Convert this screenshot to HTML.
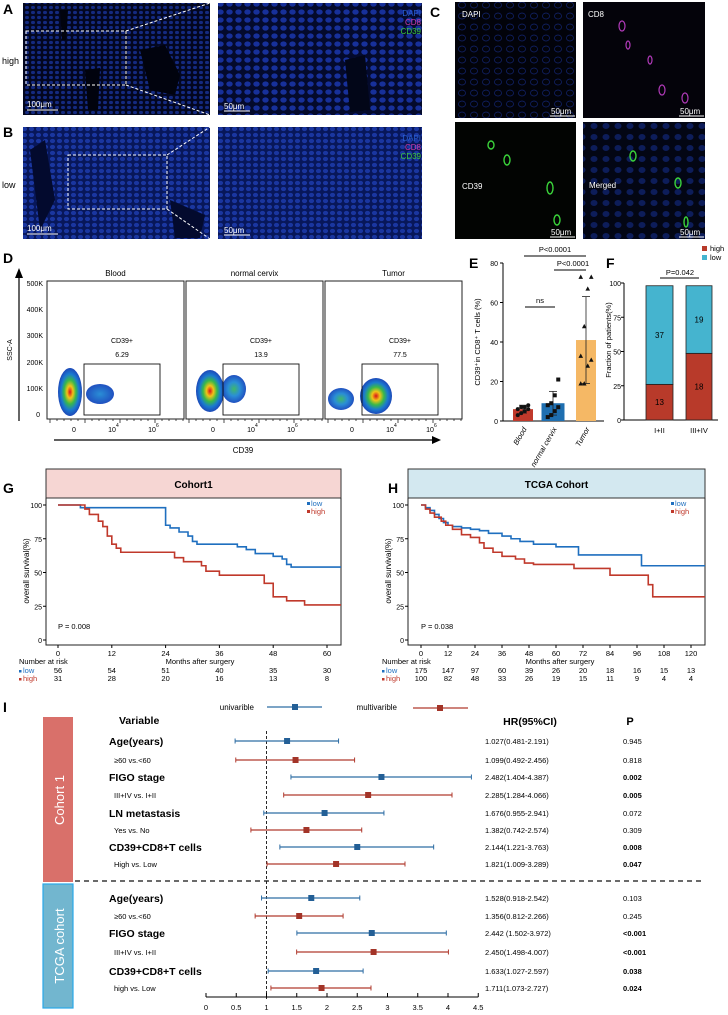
<!DOCTYPE html>
<html><head><meta charset="utf-8"><style>
html,body{margin:0;padding:0;background:#fff;}
svg{display:block;font-family:"Liberation Sans",sans-serif;}
</style></head><body>
<svg id="fig" width="728" height="1015" viewBox="0 0 728 1015" xmlns="http://www.w3.org/2000/svg">
<defs>
<pattern id="nucA" width="6" height="5" patternUnits="userSpaceOnUse"><rect width="6" height="5" fill="#030720"/><ellipse cx="3" cy="2.5" rx="2" ry="1.6" fill="#142a80"/></pattern>
<pattern id="nucB" width="7" height="6" patternUnits="userSpaceOnUse"><rect width="7" height="6" fill="#08175a"/><ellipse cx="3.5" cy="3" rx="2.6" ry="2.1" fill="#1a36a0"/></pattern>
<pattern id="nucA2" width="9" height="8" patternUnits="userSpaceOnUse"><rect width="9" height="8" fill="#040a2c"/><ellipse cx="4.5" cy="4" rx="3.2" ry="2.6" fill="#17309a"/></pattern>
<pattern id="nucC" width="12" height="11" patternUnits="userSpaceOnUse"><rect width="12" height="11" fill="#02030a"/><ellipse cx="6" cy="5" rx="3.5" ry="3" fill="none" stroke="#122470" stroke-width="0.7"/></pattern>
<pattern id="nucM" width="12" height="11" patternUnits="userSpaceOnUse"><rect width="12" height="11" fill="#030614"/><ellipse cx="6" cy="5" rx="3.5" ry="3" fill="#0d1d5a"/></pattern>
<radialGradient id="blob"><stop offset="0" stop-color="#d8101a"/><stop offset="0.25" stop-color="#f2c418"/><stop offset="0.5" stop-color="#38b84a"/><stop offset="0.75" stop-color="#1a7ad0"/><stop offset="1" stop-color="#1c48b8"/></radialGradient>
<radialGradient id="blob2"><stop offset="0" stop-color="#3fb86a"/><stop offset="0.5" stop-color="#2a8ed6"/><stop offset="1" stop-color="#2050c0"/></radialGradient>
<radialGradient id="blob3"><stop offset="0" stop-color="#2a8ed6"/><stop offset="1" stop-color="#2050c0"/></radialGradient>
</defs>

<g font-size="9">
<text x="3" y="14" font-weight="bold" font-size="14">A</text>
<text x="3" y="137" font-weight="bold" font-size="14">B</text>
<text x="2" y="64">high</text>
<text x="2" y="188">low</text>
<rect x="23" y="3" width="187" height="112" fill="url(#nucA)"/>
<path d="M140,50 L165,45 L180,75 L175,95 L150,90 Z M60,10 L68,10 L66,40 L62,40 Z M85,70 L100,68 L98,110 L88,110 Z" fill="#01030e"/>
<rect x="218" y="3" width="204" height="112" fill="url(#nucA2)"/>
<path d="M345,60 L365,55 L370,110 L350,112 Z" fill="#020618"/>
<rect x="23" y="127" width="187" height="112" fill="url(#nucB)"/>
<path d="M30,150 L45,140 L55,200 L40,230 Z M170,200 L205,215 L200,238 L175,238 Z" fill="#030a2e"/>
<rect x="218" y="127" width="204" height="112" fill="url(#nucB)"/>
<g stroke="#fff" stroke-dasharray="3,2" fill="none" stroke-width="1">
<rect x="26" y="31" width="100" height="54"/><line x1="126" y1="31" x2="210" y2="3"/><line x1="126" y1="85" x2="210" y2="115"/>
<rect x="68" y="155" width="99" height="54"/><line x1="167" y1="155" x2="210" y2="127"/><line x1="167" y1="209" x2="210" y2="239"/>
</g>
<g font-size="8">
<text x="421" y="16" fill="#2a5fd0" text-anchor="end">DAPI</text><text x="421" y="25" fill="#d23aa8" text-anchor="end">CD8</text><text x="421" y="34" fill="#3cc83c" text-anchor="end">CD39</text>
<text x="421" y="141" fill="#2a5fd0" text-anchor="end">DAPI</text><text x="421" y="150" fill="#d23aa8" text-anchor="end">CD8</text><text x="421" y="159" fill="#3cc83c" text-anchor="end">CD39</text>
</g>
<g fill="#fff" font-size="8">
<text x="27" y="107">100μm</text><line x1="27" y1="110" x2="58" y2="110" stroke="#fff"/>
<text x="224" y="109">50μm</text><line x1="224" y1="111" x2="250" y2="111" stroke="#fff"/>
<text x="27" y="231">100μm</text><line x1="27" y1="234" x2="58" y2="234" stroke="#fff"/>
<text x="224" y="233">50μm</text><line x1="224" y1="235" x2="250" y2="235" stroke="#fff"/>
</g>
</g>

<g font-size="8">
<text x="430" y="17" font-weight="bold" font-size="14">C</text>
<rect x="455" y="2" width="121" height="116" fill="url(#nucC)"/>
<rect x="583" y="2" width="122" height="116" fill="#04030a"/>
<rect x="455" y="122" width="121" height="117" fill="#020402"/>
<rect x="583" y="122" width="122" height="117" fill="url(#nucM)"/>
<g fill="none" stroke="#b03ab8" stroke-width="1.2"><ellipse cx="622" cy="26" rx="3" ry="5"/><ellipse cx="628" cy="45" rx="2" ry="4"/><ellipse cx="650" cy="60" rx="2" ry="4"/><ellipse cx="662" cy="90" rx="3" ry="5"/><ellipse cx="685" cy="98" rx="3" ry="5"/></g>
<g fill="none" stroke="#3ad23a" stroke-width="1.4"><ellipse cx="491" cy="145" rx="3" ry="4"/><ellipse cx="507" cy="160" rx="3" ry="5"/><ellipse cx="550" cy="188" rx="3" ry="6"/><ellipse cx="557" cy="220" rx="3" ry="5"/><ellipse cx="633" cy="156" rx="3" ry="5"/><ellipse cx="678" cy="183" rx="3" ry="5"/><ellipse cx="686" cy="222" rx="2" ry="5"/></g>
<g fill="#fff"><text x="462" y="17">DAPI</text><text x="588" y="17">CD8</text><text x="462" y="189">CD39</text><text x="589" y="188">Merged</text>
<text x="551" y="114">50μm</text><line x1="550" y1="116" x2="575" y2="116" stroke="#fff"/>
<text x="680" y="114">50μm</text><line x1="679" y1="116" x2="704" y2="116" stroke="#fff"/>
<text x="551" y="235">50μm</text><line x1="550" y1="237" x2="575" y2="237" stroke="#fff"/>
<text x="680" y="235">50μm</text><line x1="679" y1="237" x2="704" y2="237" stroke="#fff"/></g>
</g>

<g font-size="8">
<text x="3" y="263" font-weight="bold" font-size="14">D</text>
<line x1="19" y1="421" x2="19" y2="272" stroke="#000" stroke-width="1.2"/><path d="M15,278 L19,268 L23,278 Z" fill="#000"/>
<text transform="translate(12,350) rotate(-90)" text-anchor="middle" font-size="7">SSC-A</text>
<g text-anchor="end" font-size="7"><text x="43" y="286">500K</text><text x="43" y="312">400K</text><text x="43" y="338">300K</text><text x="43" y="365">200K</text><text x="43" y="391">100K</text><text x="40" y="417">0</text></g>
<line x1="54" y1="440" x2="435" y2="440" stroke="#000" stroke-width="1.2"/><path d="M432,436 L441,440 L432,444 Z" fill="#000"/>
<text x="243" y="453" text-anchor="middle" font-size="8">CD39</text>
<g id="flowPanels"></g>
</g>

<g id="panelE" font-size="8">
<text x="469" y="268" font-weight="bold" font-size="14">E</text>
</g>
<g id="panelF" font-size="8">
<text x="606" y="268" font-weight="bold" font-size="14">F</text>
</g>
<g id="panelG" font-size="8">
<text x="3" y="493" font-weight="bold" font-size="14">G</text>
</g>
<g id="panelH" font-size="8">
<text x="388" y="493" font-weight="bold" font-size="14">H</text>
</g>
<g id="panelI" font-size="8">
<text x="3" y="712" font-weight="bold" font-size="14">I</text>
</g>
</svg>
<script>
// ---------- data ----------
const flowTitles = ["Blood","normal cervix","Tumor"];
const flowGateValues = ["6.29","13.9","77.5"];

const eCategories = ["Blood","normal cervix","Tumor"];
const eMeans = [6, 9, 41];
const eSdHigh = [8, 15, 63];
const eSdLow = [4, 3, 19];
const ePoints = [[3,4,5,6,6,7,7,8],[2,3,5,7,8,9,13,21],[19,19,28,31,33,48,67,73,73]];
const eTicks = [0,20,40,60,80];

const fCategories = ["I+II","III+IV"];
const fHigh = [13, 18];
const fLow = [37, 19];
const fTicks = [0,25,50,75,100];

const kmTicksG = [0,12,24,36,48,60];
const gLowT = [0,5,24,25,27,29,30,31,40,42,44,48,50,51,52,63];
const gLowS = [100,98,85,83,80,77,73,71,69,67,64,62,60,56,54,54];
const gHighT = [0,6,7,9,10,11,12,13,14,17,26,28,32,33,36,46,48,51,55,63];
const gHighS = [100,97,93,88,84,77,71,68,65,65,61,58,55,51,48,42,32,29,26,26];
const gRiskLow = [56,54,51,40,35,30];
const gRiskHigh = [31,28,20,16,13,8];

const kmTicksH = [0,12,24,36,48,60,72,84,96,108,120];
const hLowT = [0,2,4,6,8,10,12,14,18,22,26,30,36,40,44,50,60,70,98,125];
const hLowS = [100,98,96,93,90,87,85,84,83,82,81,79,77,75,73,71,69,63,55,55];
const hHighT = [0,2,4,6,9,11,14,18,22,26,28,32,36,42,46,50,68,84,101,103,125];
const hHighS = [100,97,94,91,88,85,82,78,76,72,68,65,62,60,57,56,53,48,41,32,32];
const hRiskLow = [175,147,97,60,39,26,20,18,16,15,13];
const hRiskHigh = [100,82,48,33,26,19,15,11,9,4,4];

const forestLabels = ["Age(years)","≥60 vs.<60","FIGO stage","III+IV vs. I+II","LN metastasis","Yes vs. No","CD39+CD8+T cells","High vs. Low",
  "Age(years)","≥60 vs.<60","FIGO stage","III+IV vs. I+II","CD39+CD8+T cells","high vs. Low"];
const forestPoint = [1.34,1.48,2.90,2.68,1.96,1.66,2.50,2.15,1.74,1.54,2.74,2.77,1.82,1.91];
const forestLo = [0.481,0.492,1.404,1.284,0.955,0.742,1.221,1.009,0.918,0.812,1.502,1.498,1.027,1.073];
const forestHi = [2.191,2.456,4.387,4.066,2.941,2.574,3.763,3.289,2.542,2.266,3.972,4.007,2.597,2.727];
const forestHR = ["1.027(0.481-2.191)","1.099(0.492-2.456)","2.482(1.404-4.387)","2.285(1.284-4.066)","1.676(0.955-2.941)","1.382(0.742-2.574)","2.144(1.221-3.763)","1.821(1.009-3.289)",
  "1.528(0.918-2.542)","1.356(0.812-2.266)","2.442 (1.502-3.972)","2.450(1.498-4.007)","1.633(1.027-2.597)","1.711(1.073-2.727)"];
const forestP = ["0.945","0.818","0.002","0.005","0.072","0.309","0.008","0.047","0.103","0.245","<0.001","<0.001","0.038","0.024"];
const forestBoldP = [false,false,true,true,false,false,true,true,false,false,true,true,true,true];
const forestTicks = [0,0.5,1,1.5,2,2.5,3,3.5,4,4.5];

// ---------- helpers ----------
const NS="http://www.w3.org/2000/svg";
function mk(parent,tag,attrs,text){const e=document.createElementNS(NS,tag);for(const k in attrs)e.setAttribute(k,attrs[k]);if(text!==undefined)e.textContent=text;parent.appendChild(e);return e;}

// ---------- Panel D ----------
(function(){
  const g=document.getElementById('flowPanels');
  const boxes=[47,186,325], w=137;
  const blobs=[
    [[100,394,14,10,'url(#blob3)'],[70,392,12,24,'url(#blob)']],
    [[234,389,12,14,'url(#blob2)'],[210,391,14,21,'url(#blob)']],
    [[341,399,13,11,'url(#blob2)'],[376,396,16,18,'url(#blob)']]];
  for(let i=0;i<3;i++){
    const x=boxes[i];
    const b=mk(g,'rect',{x:x,y:281,width:w,height:138,fill:'none',stroke:'#222','stroke-width':1});
    
    
    const t=mk(g,'text',{x:x+w/2,y:276,'text-anchor':'middle','font-size':8},flowTitles[i]);
    
    
    blobs[i].forEach(bb=>{const e=mk(g,'ellipse',{cx:bb[0],cy:bb[1],rx:bb[2],ry:bb[3],fill:bb[4]});});
    const gate=mk(g,'rect',{x:x+37,y:364,width:76,height:51,fill:'none',stroke:'#111','stroke-width':0.9});
    
    
    mk(g,'text',{x:x+75,y:343,'text-anchor':'middle','font-size':7},'CD39+');
    mk(g,'text',{x:x+75,y:357,'text-anchor':'middle','font-size':7},flowGateValues[i]);
    const z=x+27;
    mk(g,'text',{x:z,y:432,'text-anchor':'middle','font-size':7},'0');
    mk(g,'text',{x:z+38,y:432,'text-anchor':'middle','font-size':7},'10');
    mk(g,'text',{x:z+42,y:427,'font-size':5},'4');
    mk(g,'text',{x:z+78,y:432,'text-anchor':'middle','font-size':7},'10');
    mk(g,'text',{x:z+82,y:427,'font-size':5},'6');
    for(let k=0;k<20;k++){mk(g,'line',{x1:x+3+k*7,y1:419,x2:x+3+k*7,y2:(k%5==0?423:421),stroke:'#222','stroke-width':0.8});}
  }
})();

// ---------- Panel E ----------
(function(){
  const g=document.getElementById('panelE');
  const x0=503, y0=421, yS=v=>y0-v*(158/80);
  mk(g,'line',{x1:x0,y1:y0,x2:x0,y2:yS(80),stroke:'#000'});
  mk(g,'line',{x1:x0,y1:y0,x2:604,y2:y0,stroke:'#000'});
  eTicks.forEach(t=>{mk(g,'line',{x1:x0-3,y1:yS(t),x2:x0,y2:yS(t),stroke:'#000'});mk(g,'text',{x:x0-5,y:yS(t)+3,'text-anchor':'end','font-size':7},t);});
  const yl=mk(g,'text',{transform:'translate(480,342) rotate(-90)','text-anchor':'middle','font-size':7.5},'CD39⁺in CD8⁺ T cells (%)');
  
  
  const cx=[523,553,586], colors=['#c0392b','#1f6fb0','#f5b865'], bw=[20,23,20];
  const shapes=['circle','square','triangle'];
  for(let i=0;i<3;i++){
    const bar=mk(g,'rect',{x:cx[i]-bw[i]/2,y:yS(eMeans[i]),width:bw[i],height:y0-yS(eMeans[i]),fill:colors[i]});
    
    
    mk(g,'line',{x1:cx[i],y1:yS(eSdLow[i]),x2:cx[i],y2:yS(eSdHigh[i]),stroke:'#222','stroke-width':0.8});
    mk(g,'line',{x1:cx[i]-4,y1:yS(eSdHigh[i]),x2:cx[i]+4,y2:yS(eSdHigh[i]),stroke:'#222','stroke-width':0.8});
    mk(g,'line',{x1:cx[i]-4,y1:yS(eSdLow[i]),x2:cx[i]+4,y2:yS(eSdLow[i]),stroke:'#222','stroke-width':0.8});
    ePoints[i].forEach((v,k)=>{
      const px=cx[i]+((k%4)-1.5)*3.5, py=yS(v);
      let p;
      if(shapes[i]=='circle')p=mk(g,'circle',{cx:px,cy:py,r:2,fill:'#111'});
      else if(shapes[i]=='square')p=mk(g,'rect',{x:px-2,y:py-2,width:4,height:4,fill:'#111'});
      else p=mk(g,'path',{d:`M${px-2.3},${py+2} L${px},${py-2.3} L${px+2.3},${py+2} Z`,fill:'#111'});
      
      
    });
    mk(g,'text',{transform:`translate(${cx[i]+4},${y0+8}) rotate(-60)`,'text-anchor':'end','font-size':7.5,'font-style':'italic'},eCategories[i]);
  }
  mk(g,'line',{x1:525,y1:307,x2:555,y2:307,stroke:'#000'});mk(g,'text',{x:540,y:303,'text-anchor':'middle','font-size':7.5},'ns');
  mk(g,'line',{x1:524,y1:256,x2:586,y2:256,stroke:'#000'});mk(g,'text',{x:555,y:252,'text-anchor':'middle','font-size':7.5},'P<0.0001');
  mk(g,'line',{x1:554,y1:270,x2:586,y2:270,stroke:'#000'});mk(g,'text',{x:573,y:266,'text-anchor':'middle','font-size':7.5},'P<0.0001');
})();

// ---------- Panel F ----------
(function(){
  const g=document.getElementById('panelF');
  const x0=624,y0=420,yS=v=>y0-v*1.37;
  mk(g,'line',{x1:x0,y1:y0,x2:x0,y2:yS(100),stroke:'#000'});
  mk(g,'line',{x1:x0,y1:y0,x2:718,y2:y0,stroke:'#000'});
  fTicks.forEach(t=>{mk(g,'line',{x1:x0-3,y1:yS(t),x2:x0,y2:yS(t),stroke:'#000'});mk(g,'text',{x:x0-3,y:yS(t)+3,'text-anchor':'end','font-size':7},t);});
  const yl=mk(g,'text',{transform:'translate(611,340) rotate(-90)','text-anchor':'middle','font-size':7.5},'Fraction of patients(%)');
  
  
  const bx=[646,686],bw=[27,26];
  for(let i=0;i<2;i++){
    const tot=fHigh[i]+fLow[i], ph=fHigh[i]/tot*100;
    const r=mk(g,'rect',{x:bx[i],y:yS(ph),width:bw[i],height:y0-yS(ph),fill:'#b83a2a',stroke:'#222','stroke-width':0.8});
    
    
    const c=mk(g,'rect',{x:bx[i],y:yS(98),width:bw[i],height:yS(ph)-yS(98),fill:'#45b4cf',stroke:'#222','stroke-width':0.8});
    
    
    mk(g,'text',{x:bx[i]+bw[i]/2,y:(yS(ph)+y0)/2+3,'text-anchor':'middle','font-size':8},fHigh[i]);
    mk(g,'text',{x:bx[i]+bw[i]/2,y:(yS(ph)+yS(98))/2+3,'text-anchor':'middle','font-size':8},fLow[i]);
    mk(g,'text',{x:bx[i]+bw[i]/2,y:433,'text-anchor':'middle','font-size':7.5},fCategories[i]);
  }
  mk(g,'line',{x1:660,y1:278,x2:699,y2:278,stroke:'#000'});mk(g,'text',{x:680,y:275,'text-anchor':'middle','font-size':7.5},'P=0.042');
  mk(g,'rect',{x:702,y:246,width:5,height:5,fill:'#b83a2a'});mk(g,'text',{x:710,y:251,'font-size':7.5},'high');
  mk(g,'rect',{x:702,y:255,width:5,height:5,fill:'#45b4cf'});mk(g,'text',{x:710,y:260,'font-size':7.5},'low');
})();

// ---------- KM ----------
function km(gid,hx0,hx1,title,hfill,ax0,ax1,xmax,ticks,lowT,lowS,highT,highS,riskL,riskH,ptxt,riskX,monthsX){
  const g=document.getElementById(gid);
  const hb=mk(g,'rect',{x:hx0,y:469,width:hx1-hx0,height:29,fill:hfill,stroke:'#333','stroke-width':1});
  
  
  mk(g,'text',{x:(hx0+hx1)/2,y:488,'text-anchor':'middle','font-weight':'bold','font-size':10},title);
  const xS=m=>ax0+m*(ax1-ax0)/xmax, yS=s=>640-s*1.35;
  mk(g,'path',{d:`M${hx0},498 V645 H${hx1} V498`,fill:'none',stroke:'#222','stroke-width':1});
  [0,25,50,75,100].forEach(t=>{mk(g,'line',{x1:hx0-3,y1:yS(t),x2:hx0,y2:yS(t),stroke:'#000'});mk(g,'text',{x:hx0-4,y:yS(t)+3,'text-anchor':'end','font-size':7},t);});
  const yl=mk(g,'text',{transform:`translate(${hx0-17},571) rotate(-90)`,'text-anchor':'middle','font-size':8},'overall survival(%)');
  
  
  ticks.forEach((t,i)=>{mk(g,'line',{x1:xS(t),y1:645,x2:xS(t),y2:648,stroke:'#000'});mk(g,'text',{x:xS(t),y:656,'text-anchor':'middle','font-size':7.5},t);
    mk(g,'text',{x:xS(t),y:673,'text-anchor':'middle','font-size':7.5},riskL[i]);mk(g,'text',{x:xS(t),y:681,'text-anchor':'middle','font-size':7.5},riskH[i]);});
  function step(T,S,col,name){let d=`M${xS(T[0])},${yS(S[0])}`;for(let i=1;i<T.length;i++){d+=` H${Math.min(xS(T[i]),hx1)} V${yS(S[i])}`;}
    d+=` H${hx1}`;
    const p=mk(g,'path',{d:d,fill:'none',stroke:col,'stroke-width':1.6});
    
    }
  step(lowT,lowS,'#1f6fbf','km-line-low');step(highT,highS,'#c0392b','km-line-high');
  mk(g,'text',{x:ax0,y:629,'font-size':7.5},ptxt);
  mk(g,'rect',{x:hx1-34,y:502,width:3,height:3,fill:'#1f6fbf'});mk(g,'text',{x:hx1-30,y:506,'font-size':7.5,fill:'#1f6fbf'},'low');
  mk(g,'rect',{x:hx1-34,y:510,width:3,height:3,fill:'#c0392b'});mk(g,'text',{x:hx1-30,y:514,'font-size':7.5,fill:'#c0392b'},'high');
  mk(g,'text',{x:riskX,y:664,'font-size':7.5},'Number at risk');
  mk(g,'text',{x:monthsX,y:664,'text-anchor':'middle','font-size':7.5},'Months after surgery');
  mk(g,'rect',{x:riskX+0,y:670,width:2.5,height:2.5,fill:'#1f6fbf'});mk(g,'text',{x:riskX+4,y:673,'font-size':7.5,fill:'#1f6fbf'},'low');
  mk(g,'rect',{x:riskX+0,y:678,width:2.5,height:2.5,fill:'#c0392b'});mk(g,'text',{x:riskX+4,y:681,'font-size':7.5,fill:'#c0392b'},'high');
}
km('panelG',46,341,'Cohort1','#f6d6d3',58,327,60,kmTicksG,gLowT,gLowS,gHighT,gHighS,gRiskLow,gRiskHigh,'P = 0.008',19,200);
km('panelH',408,705,'TCGA Cohort','#d3e8f0',421,691,120,kmTicksH,hLowT,hLowS,hHighT,hHighS,hRiskLow,hRiskHigh,'P = 0.038',382,560);

// ---------- Forest ----------
(function(){
  const g=document.getElementById('panelI');
  const xS=v=>206+v*60.5;
  const rowY=[741,760,777,795,813,830,847,864,898,916,933,952,971,988];
  const bold=[true,false,true,false,true,false,true,false,true,false,true,false,true,false];
  const s1=mk(g,'rect',{x:43,y:717,width:30,height:165,fill:'#d9706a'});
  
  
  mk(g,'text',{transform:'translate(64,800) rotate(-90)','text-anchor':'middle','font-size':13,fill:'#fff'},'Cohort 1');
  const s2=mk(g,'rect',{x:43,y:884,width:30,height:124,fill:'#72b6cf',stroke:'#2aa8e8','stroke-width':1.2});
  
  
  mk(g,'text',{transform:'translate(64,946) rotate(-90)','text-anchor':'middle','font-size':13,fill:'#fff'},'TCGA cohort');
  mk(g,'text',{x:254,y:710,'text-anchor':'end','font-size':8},'univarible');
  mk(g,'line',{x1:267,y1:707,x2:322,y2:707,stroke:'#2e6da4','stroke-width':1.3});mk(g,'rect',{x:292,y:704,width:6,height:6,fill:'#235f96'});
  mk(g,'text',{x:397,y:710,'text-anchor':'end','font-size':8},'multivarible');
  mk(g,'line',{x1:413,y1:708,x2:468,y2:708,stroke:'#b03a2e','stroke-width':1.3});mk(g,'rect',{x:437,y:705,width:6,height:6,fill:'#a33428'});
  mk(g,'text',{x:119,y:724,'font-weight':'bold','font-size':10.5},'Variable');
  mk(g,'text',{x:530,y:725,'text-anchor':'middle','font-weight':'bold','font-size':10.5},'HR(95%CI)');
  mk(g,'text',{x:630,y:725,'text-anchor':'middle','font-weight':'bold','font-size':11},'P');
  mk(g,'line',{x1:75,y1:881,x2:705,y2:881,stroke:'#111','stroke-width':1.3,'stroke-dasharray':'5,4'});
  mk(g,'line',{x1:xS(1),y1:731,x2:xS(1),y2:1000,stroke:'#111','stroke-width':0.9,'stroke-dasharray':'3,2'});
  forestLabels.forEach((lab,i)=>{
    const y=rowY[i], col=(i%2==0)?'#2e6da4':'#b03a2e', sq=(i%2==0)?'#235f96':'#a33428';
    mk(g,'text',{x:bold[i]?109:114,y:y+(bold[i]?4:3),'font-weight':bold[i]?'bold':'normal','font-size':bold[i]?10.5:7.5},lab);
    const l=mk(g,'line',{x1:xS(forestLo[i]),y1:y,x2:xS(forestHi[i]),y2:y,stroke:col,'stroke-width':1.2});
    
    
    mk(g,'line',{x1:xS(forestLo[i]),y1:y-2.5,x2:xS(forestLo[i]),y2:y+2.5,stroke:col,'stroke-width':1});
    mk(g,'line',{x1:xS(forestHi[i]),y1:y-2.5,x2:xS(forestHi[i]),y2:y+2.5,stroke:col,'stroke-width':1});
    const p=mk(g,'rect',{x:xS(forestPoint[i])-3,y:y-3,width:6,height:6,fill:sq});
    
    
    mk(g,'text',{x:485,y:y+3,'font-size':7.5},forestHR[i]);
    mk(g,'text',{x:623,y:y+3,'font-size':7.5,'font-weight':forestBoldP[i]?'bold':'normal'},forestP[i]);
  });
  mk(g,'line',{x1:xS(0),y1:997,x2:xS(4.5),y2:997,stroke:'#000','stroke-width':1});
  forestTicks.forEach(t=>{mk(g,'line',{x1:xS(t),y1:993,x2:xS(t),y2:997,stroke:'#000'});mk(g,'text',{x:xS(t),y:1010,'text-anchor':'middle','font-size':7.5},t);});
})();
</script>
</body></html>
